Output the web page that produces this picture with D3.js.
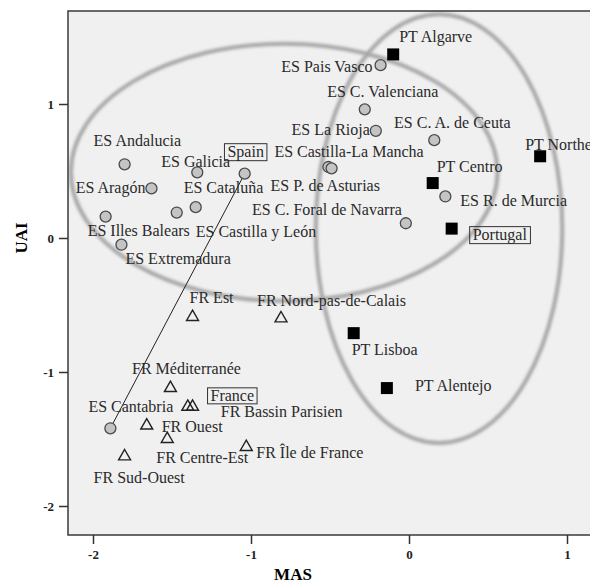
<!DOCTYPE html>
<html>
<head>
<meta charset="utf-8">
<script src="https://cdnjs.cloudflare.com/ajax/libs/d3/7.8.5/d3.min.js"></script>
<style>
  body { margin: 0; background: #fff; }
  svg { display: block; }
  .lbl { font-family: "Liberation Serif", "Times New Roman", serif; font-size: 16px; fill: #2a2a2a; }
  .tick text { font-family: "Liberation Serif", serif; font-size: 13px; font-weight: bold; fill: #222; }
  .tick line { stroke: #333; stroke-width: 1.5; }
</style>
</head>
<body>
<svg id="chart" width="590" height="586"></svg>
<script>
// regions, MAS / UAI scores
var esNames = ["ES Andalucia", "ES Aragón", "ES Galicia", "Spain", "ES Illes Balears", "ES Cataluña",
    "ES Castilla y León", "ES Extremadura", "ES Pais Vasco", "ES C. Valenciana", "ES La Rioja",
    "ES C. A. de Ceuta", "ES Castilla-La Mancha", "ES P. de Asturias", "ES R. de Murcia",
    "ES C. Foral de Navarra", "ES Cantabria"];
var esMas = [-1.80, -1.63, -1.34, -1.04, -1.92, -1.35, -1.47, -1.82, -0.18, -0.28, -0.21, 0.16, -0.51, -0.49, 0.23, -0.02, -1.89];
var esUai = [0.55, 0.37, 0.49, 0.48, 0.16, 0.23, 0.19, -0.05, 1.29, 0.96, 0.80, 0.73, 0.53, 0.52, 0.31, 0.11, -1.42];

var ptNames = ["PT Algarve", "PT Northern", "PT Centro", "Portugal", "PT Lisboa", "PT Alentejo"];
var ptMas = [-0.10, 0.83, 0.15, 0.27, -0.35, -0.14];
var ptUai = [1.37, 0.61, 0.41, 0.07, -0.71, -1.12];

var frNames = ["FR Est", "FR Nord-pas-de-Calais", "FR Méditerranée", "France", "FR Bassin Parisien",
    "FR Ouest", "FR Centre-Est", "FR Sud-Ouest", "FR Île de France"];
var frMas = [-1.37, -0.81, -1.51, -1.37, -1.40, -1.66, -1.53, -1.80, -1.03];
var frUai = [-0.59, -0.60, -1.12, -1.26, -1.26, -1.40, -1.50, -1.63, -1.56];

var countries = ["Spain", "Portugal", "France"];
var xTicks = [-2, -1, 0, 1];
var yTicks = [-2, -1, 0, 1];

// group ellipses: [centre MAS, centre UAI, half width, half height]
var ellipseSpain = [-0.79, 0.49, 1.35, 0.96];
var ellipsePortugal = [0.19, 0.07, 0.78, 1.60];

// label placement: [dx, dy, anchor] in px from the mark
var labelPos = {
    "ES Andalucia": [-31, -18, "start"], "ES Aragón": [-6, 5, "end"], "ES Galicia": [-36, -5, "start"],
    "Spain": [1, -17, "middle"], "ES Illes Balears": [-18, 19, "start"], "ES Cataluña": [-12, -14, "start"],
    "ES Castilla y León": [19, 24, "start"], "ES Extremadura": [4, 19, "start"], "ES Pais Vasco": [-8, 7, "end"],
    "ES C. Valenciana": [18, -12, "middle"], "ES La Rioja": [-6, 4, "end"], "ES C. A. de Ceuta": [18, -12, "middle"],
    "ES Castilla-La Mancha": [-54, -10, "start"], "ES P. de Asturias": [-61, 23, "start"],
    "ES R. de Murcia": [15, 10, "start"], "ES C. Foral de Navarra": [-4, -8, "end"], "ES Cantabria": [-22, -16, "start"],
    "PT Algarve": [6, -12, "start"], "PT Northern": [-15, -6, "start"], "PT Centro": [4, -11, "start"],
    "Portugal": [21, 11, "start"], "PT Lisboa": [-2, 22, "start"], "PT Alentejo": [28, 3, "start"],
    "FR Est": [-3, -14, "start"], "FR Nord-pas-de-Calais": [-24, -12, "start"], "FR Méditerranée": [16, -14, "middle"],
    "France": [18, -6, "start"], "FR Bassin Parisien": [33, 10, "start"], "FR Ouest": [15, 6, "start"],
    "FR Centre-Est": [-11, 24, "start"], "FR Sud-Ouest": [-31, 27, "start"], "FR Île de France": [10, 11, "start"]
};

var svg = d3.select("#chart");
var plot = { left: 68, top: 11, right: 600, bottom: 535 };

var xScale = d3.scaleLinear().domain([-2, 1]).range([93, 567]);
var yScale = d3.scaleLinear().domain([-2, 1]).range([506, 104]);

var defs = svg.append("defs");
defs.append("clipPath").attr("id", "clip").append("rect")
    .attr("x", plot.left).attr("y", plot.top)
    .attr("width", plot.right - plot.left).attr("height", plot.bottom - plot.top);
defs.append("filter").attr("id", "soft").attr("x", "-10%").attr("y", "-10%").attr("width", "120%").attr("height", "120%")
    .append("feGaussianBlur").attr("stdDeviation", 1.4);

svg.append("rect")
    .attr("x", plot.left).attr("y", plot.top)
    .attr("width", plot.right - plot.left).attr("height", plot.bottom - plot.top)
    .style("fill", "#f0f0f0");

var g = svg.append("g").attr("clip-path", "url(#clip)");

// grey rings round the groups
[ellipseSpain, ellipsePortugal].forEach(function (e) {
    g.append("ellipse")
        .attr("cx", xScale(e[0])).attr("cy", yScale(e[1]))
        .attr("rx", xScale(e[0] + e[2]) - xScale(e[0]))
        .attr("ry", yScale(e[1]) - yScale(e[1] + e[3]))
        .style("fill", "none").style("stroke", "#a6a6a6").style("stroke-width", 4)
        .attr("filter", "url(#soft)");
});

// Spain -> Cantabria
var iSp = esNames.indexOf("Spain"), iCa = esNames.indexOf("ES Cantabria");
g.append("line")
    .attr("x1", xScale(esMas[iSp])).attr("y1", yScale(esUai[iSp]))
    .attr("x2", xScale(esMas[iCa])).attr("y2", yScale(esUai[iCa]))
    .style("stroke", "#222").style("stroke-width", 1);

var es = esNames.map(function (n, i) { return { name: n, x: esMas[i], y: esUai[i] }; });
var pt = ptNames.map(function (n, i) { return { name: n, x: ptMas[i], y: ptUai[i] }; });
var fr = frNames.map(function (n, i) { return { name: n, x: frMas[i], y: frUai[i] }; });

g.selectAll("circle.es").data(es).enter().append("circle")
    .attr("class", "es")
    .attr("cx", function (d) { return xScale(d.x); })
    .attr("cy", function (d) { return yScale(d.y); })
    .attr("r", 5.5)
    .style("fill", "#c4c4c4").style("stroke", "#4a4a4a").style("stroke-width", 1.3);

g.selectAll("rect.pt").data(pt).enter().append("rect")
    .attr("class", "pt")
    .attr("x", function (d) { return xScale(d.x) - 6; })
    .attr("y", function (d) { return yScale(d.y) - 6; })
    .attr("width", 12).attr("height", 12)
    .style("fill", "#000");

var tri = d3.symbol().type(d3.symbolTriangle).size(62);
g.selectAll("path.fr").data(fr).enter().append("path")
    .attr("class", "fr")
    .attr("d", tri)
    .attr("transform", function (d) { return "translate(" + xScale(d.x) + "," + yScale(d.y) + ")"; })
    .style("fill", "none").style("stroke", "#222").style("stroke-width", 1.4);

// labels
var all = es.concat(pt, fr);
var labels = svg.append("g");
all.forEach(function (d) {
    var p = labelPos[d.name];
    var t = labels.append("text").attr("class", "lbl")
        .attr("x", xScale(d.x) + p[0]).attr("y", yScale(d.y) + p[1])
        .attr("text-anchor", p[2])
        .text(d.name);
    if (countries.indexOf(d.name) >= 0) {
        var b = t.node().getBBox();
        labels.insert("rect", "text")
            .attr("x", b.x - 3).attr("y", b.y + 1)
            .attr("width", b.width + 6).attr("height", b.height - 1)
            .style("fill", "none").style("stroke", "#333").style("stroke-width", 1);
    }
});

// frame
svg.append("path")
    .attr("d", "M" + plot.right + "," + plot.top + "H" + plot.left + "V" + plot.bottom + "H" + plot.right)
    .style("fill", "none").style("stroke", "#3a3a3a").style("stroke-width", 1.5);

var fmt = function (d) { return String(d); };
svg.append("g").attr("transform", "translate(" + plot.left + ",0)")
    .call(d3.axisLeft(yScale).tickValues(yTicks).tickSize(9).tickPadding(5).tickFormat(fmt))
    .call(function (a) { a.select(".domain").remove(); });
svg.append("g").attr("transform", "translate(0," + plot.bottom + ")")
    .call(d3.axisBottom(xScale).tickValues(xTicks).tickSize(9).tickPadding(6).tickFormat(fmt))
    .call(function (a) { a.select(".domain").remove(); });

svg.append("text")
    .attr("x", 293).attr("y", 580)
    .attr("text-anchor", "middle")
    .style("font-family", "Liberation Serif, serif").style("font-size", "17px").style("font-weight", "bold")
    .text("MAS");
svg.append("text")
    .attr("transform", "translate(27,238) rotate(-90)")
    .attr("text-anchor", "middle")
    .style("font-family", "Liberation Serif, serif").style("font-size", "17px").style("font-weight", "bold")
    .text("UAI");
</script>
</body>
</html>
